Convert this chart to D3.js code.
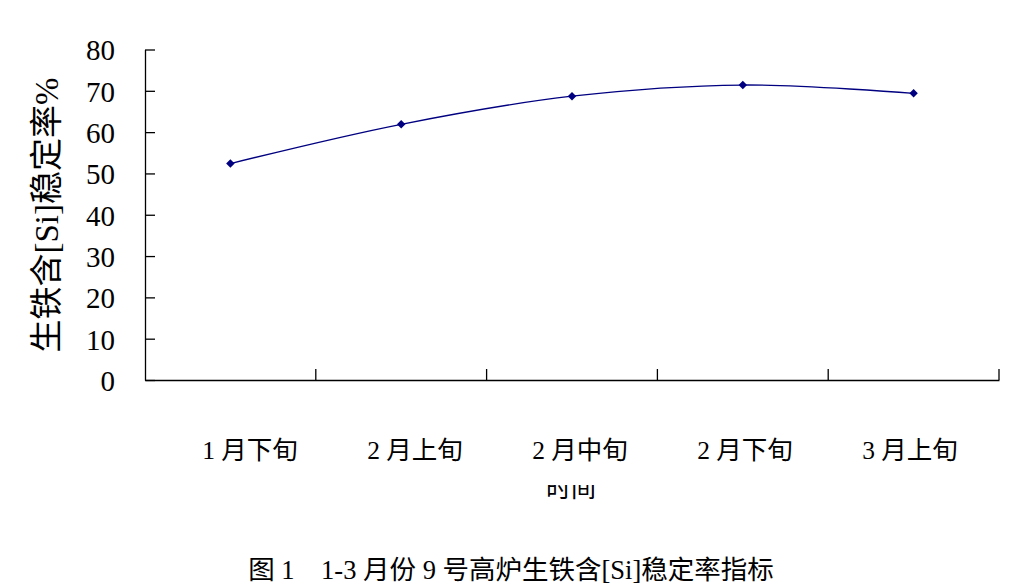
<!DOCTYPE html>
<html>
<head>
<meta charset="utf-8">
<script src="https://cdn.jsdelivr.net/npm/d3@7"></script>
<style>
	body{margin:0;background:#fff;}
	svg{display:block;}
	.serif{font-family:"Liberation Serif","Noto Sans CJK SC",serif;}
</style>
</head>
<body>
<div id="chart-box"></div>
<script>
// chart data
const periods= ["1 月下旬","2 月上旬","2 月中旬","2 月下旬","3 月上旬"];
const stability= [52.4,61.9,68.7,71.4,69.4];
const yTicks= [0,10,20,30,40,50,60,70,80];
const yTitle= "生铁含[Si]稳定率%";
const xTitle= "时间";
const caption= "图 1　1-3 月份 9 号高炉生铁含[Si]稳定率指标";

const w= 1016;
const h= 587;

const svg= d3.select("#chart-box")
	.append("svg")
	.attr("width", w)
	.attr("height", h)
	.attr("class","serif");

// scales
const xScale= d3.scaleBand()
	.domain(periods)
	.range([145, 999]);
const labelScale= d3.scalePoint()
	.domain(periods)
	.range([250, 910]);
const yScale= d3.scaleLinear()
	.domain([0, 80])
	.range([380, 49.5]);

// Y axis
const yAxis= d3.axisLeft(yScale)
	.tickValues(yTicks)
	.tickSizeInner(-10)
	.tickSizeOuter(0)
	.tickPadding(30);
const gy= svg.append("g")
	.attr("transform","translate(145,0)")
	.call(yAxis);
gy.select(".domain").attr("stroke","#000").attr("stroke-width",1.3);
gy.selectAll(".tick line").attr("stroke","#000").attr("stroke-width",1.3);
gy.selectAll(".tick text")
	.attr("font-size",29)
	.attr("font-family","Liberation Serif")
	.attr("fill","#000")
	.attr("dy","0.36em");

// X axis
const xAxis= d3.axisBottom(xScale)
	.tickValues([])
	.tickSizeOuter(0);
const gx= svg.append("g")
	.attr("transform","translate(0,380)")
	.call(xAxis);
gx.select(".domain").attr("stroke","#000").attr("stroke-width",1.3);
// category separators
svg.append("g")
	.selectAll("line")
	.data(periods)
	.enter()
	.append("line")
	.attr("x1", d=> xScale(d)+xScale.bandwidth())
	.attr("x2", d=> xScale(d)+xScale.bandwidth())
	.attr("y1", 380)
	.attr("y2", 369)
	.attr("stroke","#000")
	.attr("stroke-width",1.3);

// category labels
svg.append("g")
	.selectAll("text")
	.data(periods)
	.enter()
	.append("text")
	.attr("x", d=> labelScale(d))
	.attr("y", 459)
	.attr("text-anchor","middle")
	.attr("font-size",25.5)
	.text(d=> d);

// axis titles
svg.append("text")
	.attr("transform","translate(58,215) rotate(-90)")
	.attr("text-anchor","middle")
	.attr("font-size",33)
	.text(yTitle);

svg.append("clipPath")
	.attr("id","cut")
	.append("rect")
	.attr("x",0).attr("y",485).attr("width",w).attr("height",40);
svg.append("text")
	.attr("clip-path","url(#cut)")
	.attr("x", 571)
	.attr("y", 497)
	.attr("text-anchor","middle")
	.attr("font-size",25)
	.text(xTitle);

// caption
svg.append("text")
	.attr("x", 511)
	.attr("y", 579)
	.attr("text-anchor","middle")
	.attr("font-size",26.5)
	.text(caption);

// line + markers
const line= d3.line()
	.x((d,i)=> xScale(periods[i])+xScale.bandwidth()/2)
	.y(d=> yScale(d))
	.curve(d3.curveCatmullRom.alpha(0.5));
svg.append("path")
	.datum(stability)
	.attr("d", line)
	.attr("fill","none")
	.attr("stroke","#000080")
	.attr("stroke-width",1.3);

svg.append("g")
	.selectAll("path")
	.data(stability)
	.enter()
	.append("path")
	.attr("d", d3.symbol().type(d3.symbolSquare).size(36))
	.attr("transform",(d,i)=> "translate("+(xScale(periods[i])+xScale.bandwidth()/2)+","+yScale(d)+") rotate(45)")
	.attr("fill","#000080");
</script>
</body>
</html>
